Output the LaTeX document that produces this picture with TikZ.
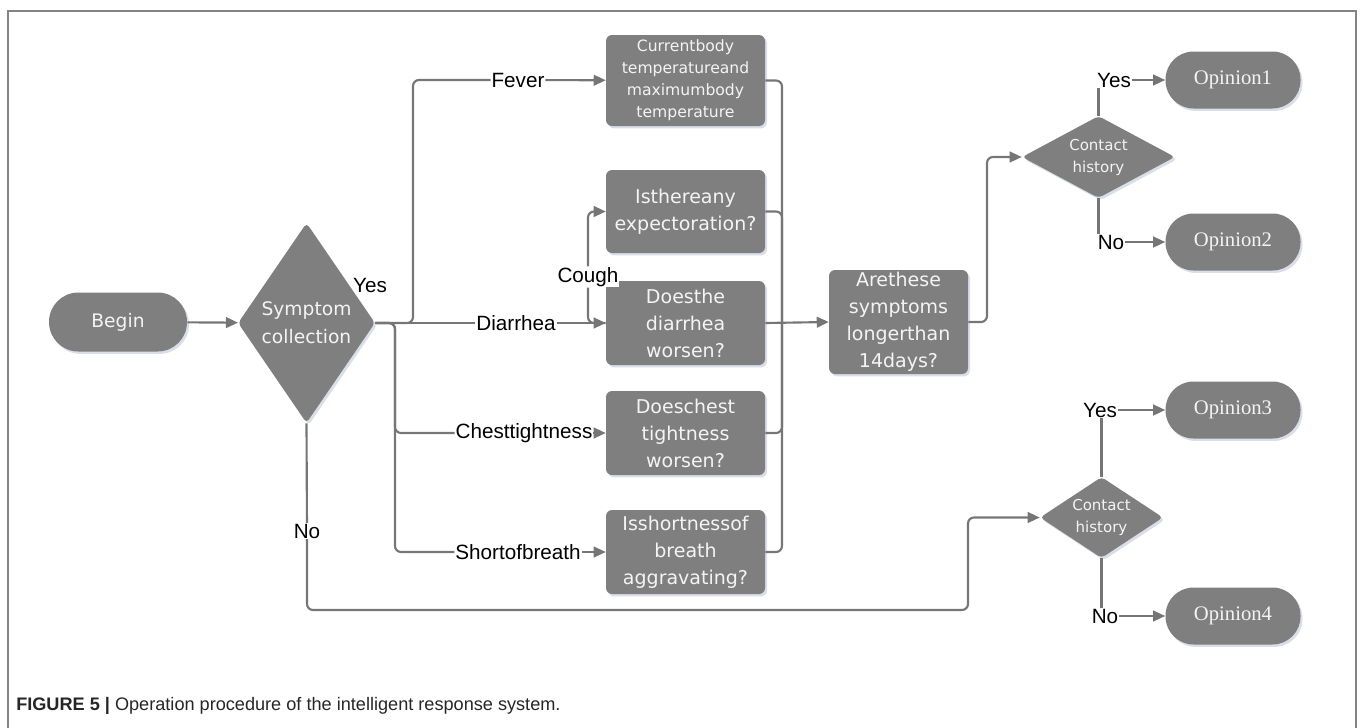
\documentclass[tikz,border=0pt]{standalone}
\usepackage{fontspec}
\setmainfont{Liberation Sans}
\newfontfamily\boxfont{DejaVu Sans}
\newfontfamily\opfont{Liberation Serif}
\usetikzlibrary{arrows.meta,shapes.geometric,shadows}
\definecolor{nodegray}{RGB}{127,127,127}
\definecolor{linegray}{RGB}{118,118,118}
\definecolor{txtw}{RGB}{244,244,244}
\definecolor{shadowc}{RGB}{150,160,190}
\tikzset{
  shad/.style={drop shadow={shadow xshift=1.5pt, shadow yshift=-1.8pt, fill=shadowc, opacity=0.35}},
  box/.style={shad, draw=none, fill=nodegray, rounded corners=4.5pt, text=txtw, align=center,
    minimum width=119.25pt, inner sep=1pt, font=\boxfont\fontsize{14.25}{20.25}\selectfont},
  pill/.style={shad, draw=none, fill=nodegray, rounded corners=21pt, text=txtw, align=center, inner sep=1pt},
  dia/.style={shad, draw=none, fill=nodegray, shape=diamond, rounded corners=3pt, text=txtw, align=center, inner sep=0pt},
  lab/.style={fill=white, inner sep=0.5pt, text=black, font=\fontsize{15.5}{18}\selectfont},
  ln/.style={draw=linegray, line width=1.6pt, rounded corners=4.5pt},
  arr/.style={ln, -{Triangle[length=9pt,width=8pt]}},
}
\begin{document}
\begin{tikzpicture}[x=0.75pt,y=-0.75pt]
\useasboundingbox (0,0) rectangle (1360,728);
% frame
\draw[draw=linegray!90, line width=1.1pt] (8,728) -- (8,11) -- (1356,11) -- (1356,728);

% nodes
\node[pill, minimum width=103.5pt, minimum height=44.25pt, rounded corners=22pt,
      font=\boxfont\fontsize{14}{20}\selectfont] (begin) at (118,322) {Begin};
\node[dia, minimum width=102.75pt, minimum height=150pt, aspect=0.685,
      font=\boxfont\fontsize{14}{21}\selectfont] (sym) at (306.5,323) {Symptom\\collection};

\node[box, minimum height=68.25pt, font=\boxfont\fontsize{11.7}{16.5}\selectfont] (fever) at (685.5,80.5)
  {Currentbody\\temperatureand\\maximumbody\\temperature};
\node[box, minimum height=62.25pt] (exp) at (685.5,211.5) {Isthereany\\expectoration?};
\node[box, minimum height=63pt] (diar) at (685.5,323) {Doesthe\\diarrhea\\worsen?};
\node[box, minimum height=63pt] (chest) at (685.5,433) {Doeschest\\tightness\\worsen?};
\node[box, minimum height=63pt] (short) at (685.5,552) {Isshortnessof\\breath\\aggravating?};
\node[box, minimum width=104.25pt, minimum height=78pt] (are) at (898.5,322) {Arethese\\symptoms\\longerthan\\14days?};

\node[dia, minimum width=114.75pt, minimum height=61.5pt, aspect=1.87,
      font=\boxfont\fontsize{11.25}{16.5}\selectfont] (ch1) at (1098.5,157) {Contact\\history};
\node[dia, minimum width=92.25pt, minimum height=60.75pt, aspect=1.52,
      font=\boxfont\fontsize{11.25}{16.5}\selectfont] (ch2) at (1101.5,517.5) {Contact\\history};

\node[pill, minimum width=101.25pt, minimum height=42.75pt, font=\opfont\fontsize{15.5}{18}\selectfont] (op1) at (1233,80) {Opinion1};
\node[pill, minimum width=101.25pt, minimum height=42.75pt, font=\opfont\fontsize{15.5}{18}\selectfont] (op2) at (1233,242) {Opinion2};
\node[pill, minimum width=101.25pt, minimum height=42.75pt, font=\opfont\fontsize{15.5}{18}\selectfont] (op3) at (1233,410) {Opinion3};
\node[pill, minimum width=101.25pt, minimum height=42.75pt, font=\opfont\fontsize{15.5}{18}\selectfont] (op4) at (1233,616) {Opinion4};

% labels
\node[lab, fill=none] (lyes) at (370,285) {Yes};
\node[lab] (lfever) at (518,80) {Fever};
\node[lab] (ldiar) at (516,323) {Diarrhea};
\node[lab] (lcough) at (588,277) {Cough};
\node[lab] (lchest) at (524,433) {Chesttightness};
\node[lab] (lshort) at (518,552) {Shortofbreath};
\node[lab] (lno) at (307,531) {No};
\node[lab] (ly1) at (1114,80) {Yes};
\node[lab] (ln1) at (1111,242) {No};
\node[lab] (ly2) at (1100,410) {Yes};
\node[lab] (ln2) at (1105,616) {No};

% connectors
\draw[arr] (begin) -- (sym);
\draw[ln] (sym.east) -- (413,323) -- (413,80) -- (lfever);
\draw[arr] (lfever) -- (fever);
\draw[ln] (sym.east) -- (ldiar);
\draw[arr] (ldiar) -- (diar);
\draw[ln] (lcough.south) |- (diar.west);
\draw[arr] (lcough.north) |- (exp.west);
\draw[ln] (sym.east) -- (395,323) |- (lchest);
\draw[arr] (lchest) -- (chest);
\draw[ln] (sym.east) -- (395,323) |- (lshort);
\draw[arr] (lshort) -- (short);

\draw[ln] (fever.east) -| (782,323);
\draw[ln] (exp.east) -| (782,323);
\draw[ln] (chest.east) -| (782,323);
\draw[ln] (short.east) -| (782,323);
\draw[arr] (diar.east) -- (are.west);

\draw[arr] (are.east) -| (987,157) -- (ch1.west);
\draw[ln] (ch1.north) -- (ch1.north |- ly1.south);
\draw[arr] (ly1) -- (op1);
\draw[ln] (ch1.south) -- (ch1.south |- ln1.north);
\draw[arr] (ln1) -- (op2);

\draw[ln] (sym.south) -- (lno);
\draw[arr] (lno) -- (307,610) -| (968,517.5) -- (ch2.west);
\draw[ln] (ch2.north) -- (ch2.north |- ly2.south);
\draw[arr] (ly2) -- (op3);
\draw[ln] (ch2.south) -- (ch2.south |- ln2.north);
\draw[arr] (ln2) -- (op4);

% caption
\node[anchor=west, inner sep=0pt, font=\fontsize{13.6}{16}\selectfont, text=black!85] (cap) at (16,706)
  {\textbf{FIGURE 5 |} Operation procedure of the intelligent response system.};
\end{tikzpicture}
\end{document}
